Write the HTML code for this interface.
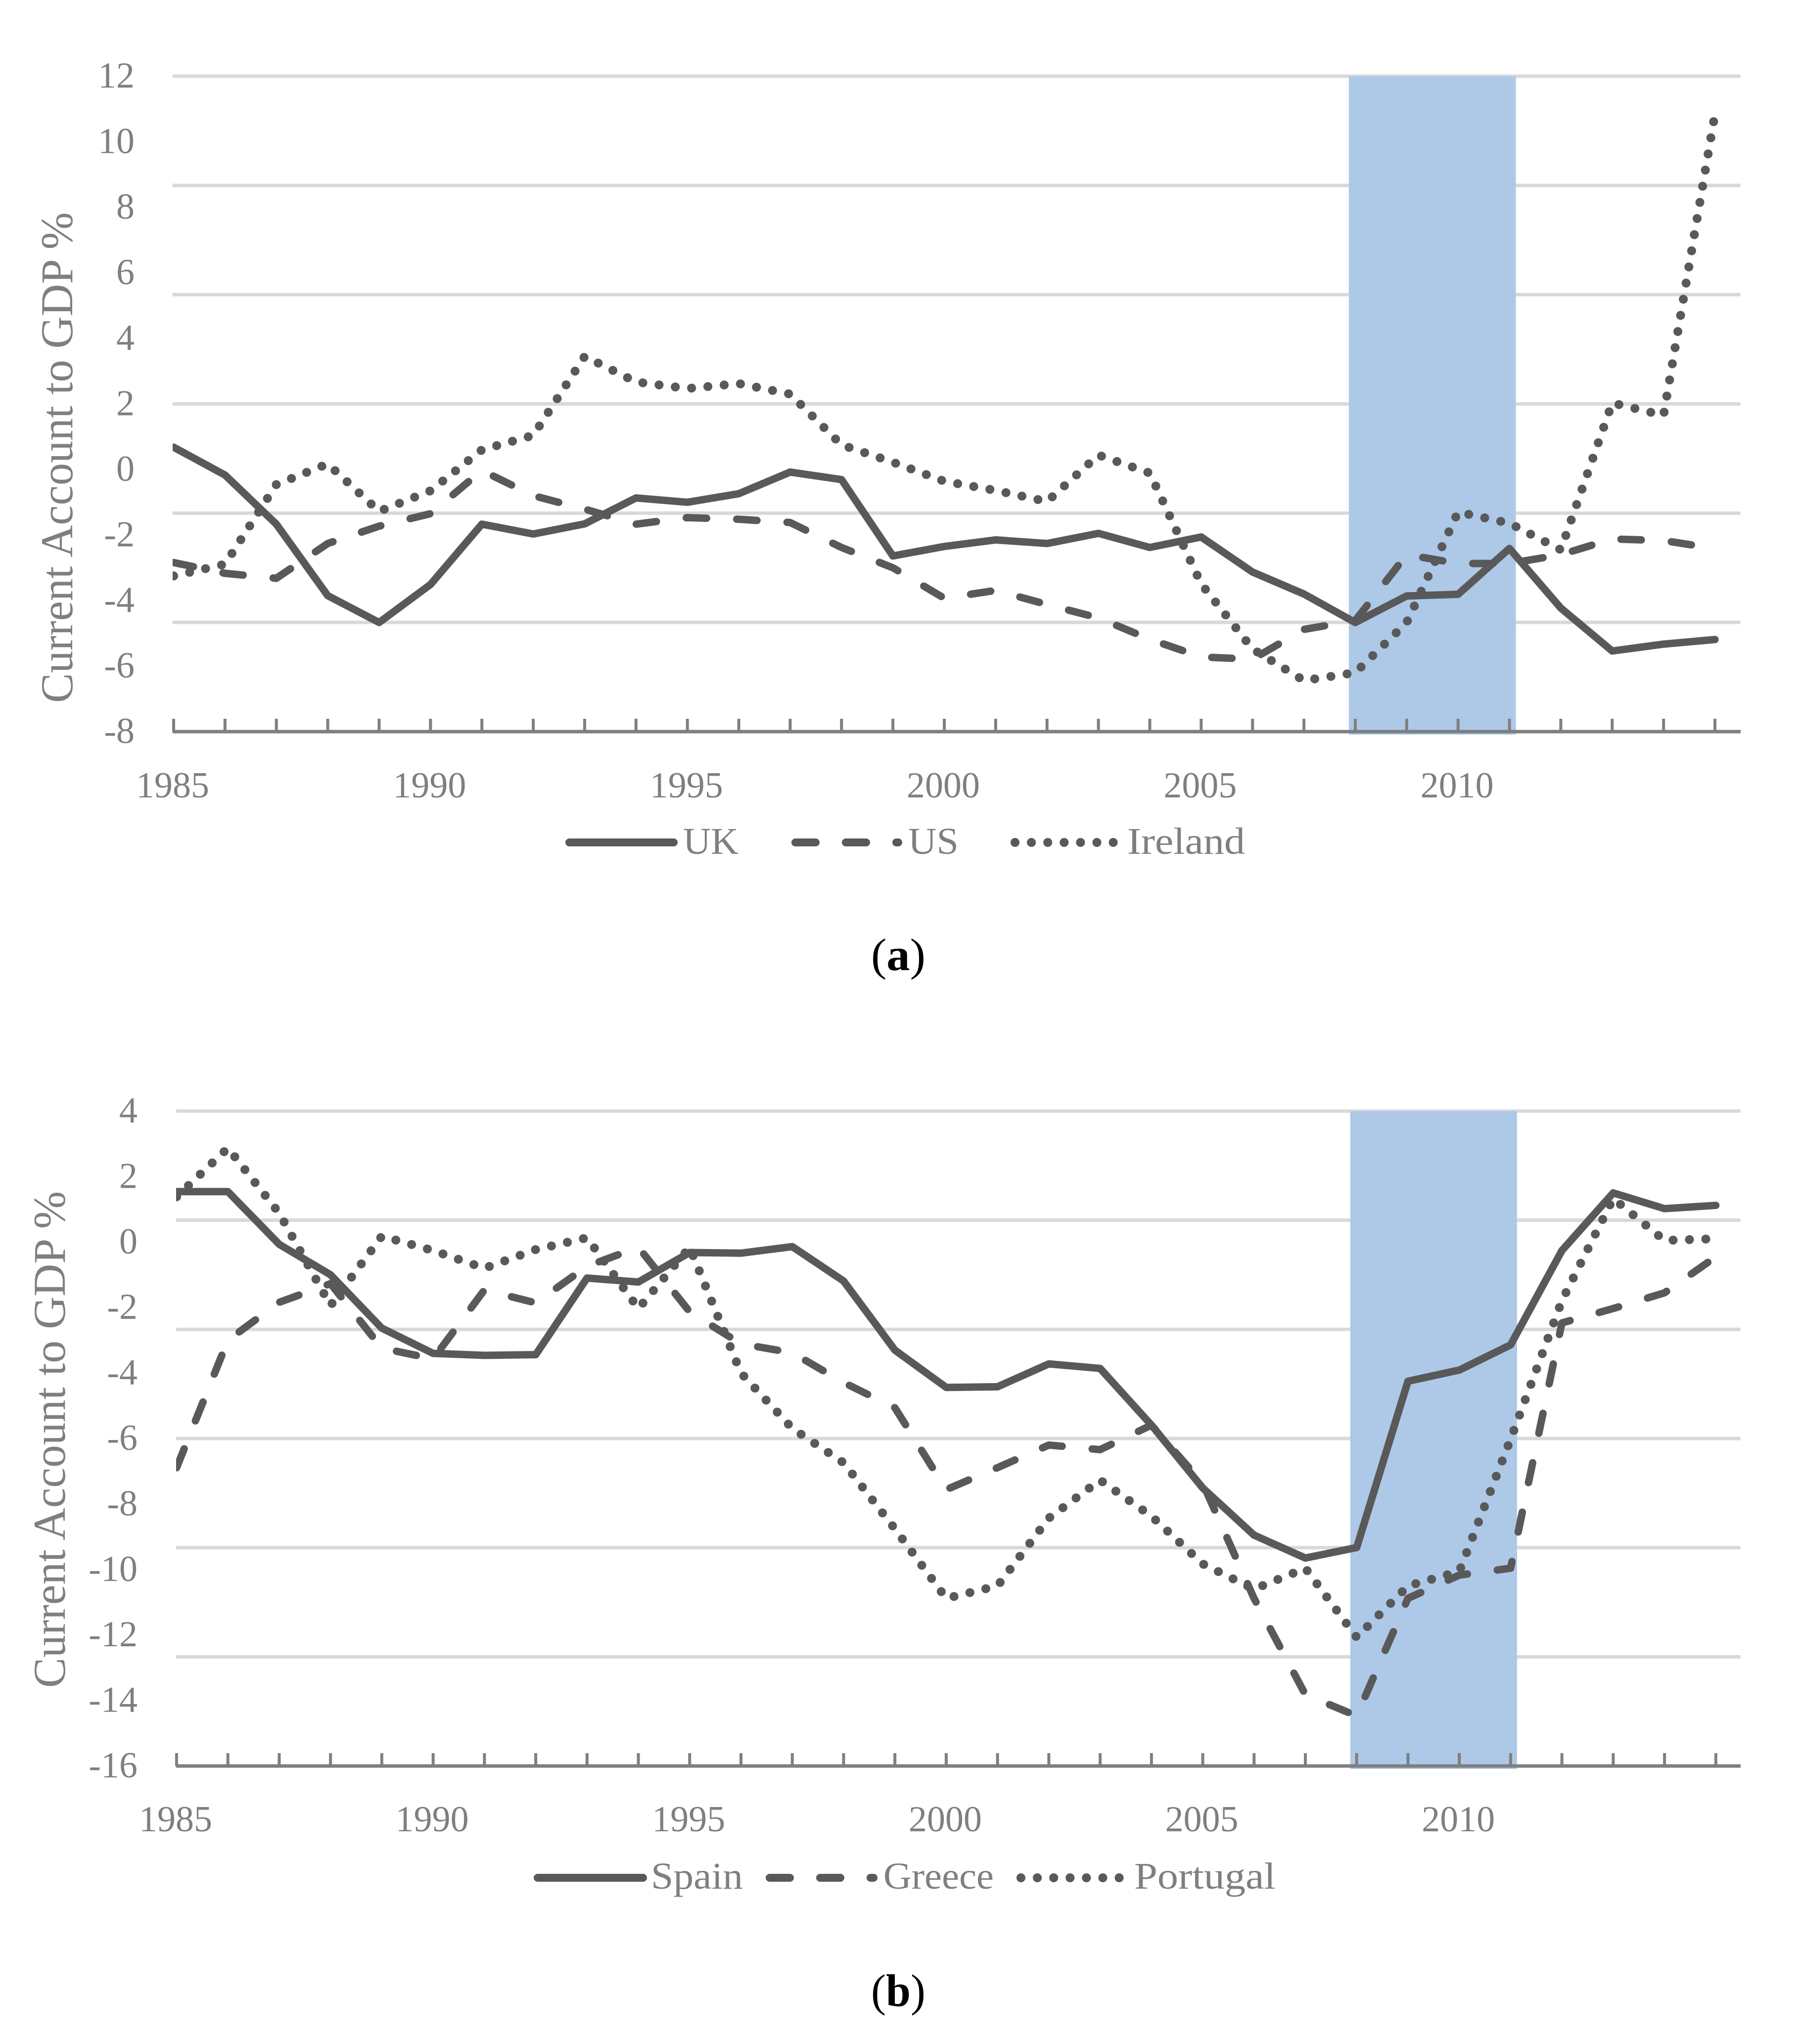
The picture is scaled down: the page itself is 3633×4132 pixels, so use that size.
<!DOCTYPE html>
<html lang="en">
<head>
<meta charset="utf-8">
<title>Current Account to GDP</title>
<style>
  html, body { margin: 0; padding: 0; background: #ffffff; }
  svg { display: block; }
  text { font-family: "Liberation Serif", serif; fill: #7f7f7f; }
  .tick-label { font-size: 74px; }
  .axis-title { font-size: 92px; }
  .legend-label { font-size: 76px; }
  .caption { font-size: 92px; fill: #000000; }
  .caption-bold { font-weight: bold; }
  .s-solid { fill: none; stroke: #595959; stroke-width: 15; stroke-linecap: round; stroke-linejoin: round; }
  .s-dash { fill: none; stroke: #595959; stroke-width: 15; stroke-linecap: round; stroke-linejoin: round; stroke-dasharray: 41 61; }
  .s-dot { fill: none; stroke: #595959; stroke-width: 18; stroke-linecap: round; stroke-linejoin: round; stroke-dasharray: 0.1 33; }
  .leg-solid { stroke-width: 16; }
  .leg-dash { stroke-width: 16; }
  .leg-dot { stroke-width: 18; }
</style>
</head>
<body>
<svg id="figure" xmlns="http://www.w3.org/2000/svg" width="3633" height="4132" viewBox="0 0 3633 4132">
  <rect x="0" y="0" width="3633" height="4132" fill="#ffffff"/>

  <g id="panel-a"></g>
  <g id="panel-b"></g>

  <text class="axis-title" transform="translate(146 925) rotate(-90)" text-anchor="middle" textLength="992" lengthAdjust="spacingAndGlyphs">Current Account to GDP %</text>
  <text class="axis-title" transform="translate(131 2910) rotate(-90)" text-anchor="middle" textLength="1004" lengthAdjust="spacingAndGlyphs">Current Account to GDP %</text>

  <g>
    <line class="s-solid leg-solid" x1="1151" y1="1703" x2="1362" y2="1703"/>
    <text class="legend-label" x="1381" y="1726" textLength="112" lengthAdjust="spacingAndGlyphs">UK</text>
    <line class="s-dash leg-dash" x1="1608" y1="1703" x2="1816" y2="1703"/>
    <text class="legend-label" x="1836" y="1726" textLength="102" lengthAdjust="spacingAndGlyphs">US</text>
    <line class="s-dot leg-dot" x1="2052" y1="1703" x2="2258" y2="1703"/>
    <text class="legend-label" x="2279" y="1726" textLength="238" lengthAdjust="spacingAndGlyphs">Ireland</text>
  </g>

  <g>
    <line class="s-solid leg-solid" x1="1087" y1="3796" x2="1300" y2="3796"/>
    <text class="legend-label" x="1316" y="3818" textLength="186" lengthAdjust="spacingAndGlyphs">Spain</text>
    <line class="s-dash leg-dash" x1="1556" y1="3796" x2="1766" y2="3796"/>
    <text class="legend-label" x="1786" y="3818" textLength="223" lengthAdjust="spacingAndGlyphs">Greece</text>
    <line class="s-dot leg-dot" x1="2064" y1="3796" x2="2270" y2="3796"/>
    <text class="legend-label" x="2293" y="3818" textLength="286" lengthAdjust="spacingAndGlyphs">Portugal</text>
  </g>

  <text class="caption" x="1816" y="1961" text-anchor="middle" textLength="110" lengthAdjust="spacingAndGlyphs">(<tspan class="caption-bold">a</tspan>)</text>
  <text class="caption" x="1816" y="4055" text-anchor="middle" textLength="110" lengthAdjust="spacingAndGlyphs">(<tspan class="caption-bold">b</tspan>)</text>
</svg>

<script>
const years = [1985,1986,1987,1988,1989,1990,1991,1992,1993,1994,1995,1996,1997,1998,1999,2000,2001,2002,2003,2004,2005,2006,2007,2008,2009,2010,2011,2012,2013,2014,2015];
const xTickLabels = [1985,1990,1995,2000,2005,2010];
const crisisStartYear = 2008;
const crisisEndYear = 2011;

const ukValues = [0.68,-0.17,-1.67,-3.85,-4.67,-3.51,-1.67,-1.97,-1.66,-0.87,-1.0,-0.74,-0.08,-0.31,-2.64,-2.35,-2.15,-2.26,-1.95,-2.38,-2.06,-3.13,-3.80,-4.67,-3.86,-3.81,-2.41,-4.23,-5.54,-5.33,-5.19];
const usValues = [-2.84,-3.17,-3.32,-2.26,-1.73,-1.35,-0.03,-0.8,-1.21,-1.67,-1.47,-1.52,-1.62,-2.38,-3.0,-3.93,-3.69,-4.12,-4.53,-5.18,-5.72,-5.79,-4.88,-4.61,-2.6,-2.87,-2.87,-2.6,-2.12,-2.17,-2.41];
const irelandValues = [-3.25,-2.89,-0.46,0.17,-1.28,-0.65,0.6,1.04,3.45,2.67,2.47,2.62,2.3,0.75,0.22,-0.36,-0.64,-0.98,0.44,-0.11,-3.49,-5.48,-6.44,-6.2,-4.67,-1.3,-1.64,-2.45,2.03,1.65,10.85];
const panelAYTicks = [12,10,8,6,4,2,0,-2,-4,-6,-8];

const spainValues = [1.54,1.54,-0.07,-1.0,-2.63,-3.4,-3.46,-3.44,-1.1,-1.22,-0.32,-0.34,-0.14,-1.19,-3.3,-4.44,-4.42,-3.72,-3.86,-5.59,-7.51,-8.95,-9.65,-9.33,-4.25,-3.91,-3.14,-0.26,1.5,1.02,1.12];
const greeceValues = [-6.89,-3.0,-1.84,-1.27,-3.24,-3.57,-1.46,-1.86,-0.74,-0.16,-2.13,-3.11,-3.38,-4.29,-5.06,-7.56,-6.89,-6.2,-6.34,-5.59,-7.37,-10.88,-13.82,-14.47,-10.88,-10.17,-9.96,-2.47,-2.03,-1.55,-0.45];
const portugalValues = [1.38,2.87,0.88,-1.94,0.18,-0.26,-0.8,-0.23,0.13,-2.03,-0.16,-4.0,-5.69,-6.74,-8.76,-10.88,-10.5,-8.43,-7.27,-8.37,-9.83,-10.6,-9.96,-12.07,-10.5,-10.06,-6.02,-1.79,1.33,0.05,0.1];
const panelBYTicks = [4,2,0,-2,-4,-6,-8,-10,-12,-14,-16];

const gridDivisions = 6;
const SVG_NS = 'http://www.w3.org/2000/svg';

function make(tag, parent) {
  const el = document.createElementNS(SVG_NS, tag);
  parent.appendChild(el);
  return el;
}

function drawPanel(cfg) {
  const root = document.getElementById(cfg.id);
  const xScale = function (year) {
    return cfg.x1985 + (year - years[0]) * cfg.xStep;
  };
  const yScale = function (value) {
    return cfg.yTop + (cfg.yMax - value) * (cfg.yBottom - cfg.yTop) / (cfg.yMax - cfg.yMin);
  };

  for (let i = 0; i < gridDivisions; i++) {
    const gridValue = cfg.yMax - i * (cfg.yMax - cfg.yMin) / gridDivisions;
    const grid = make('line', root);
    
    
    grid.setAttribute('x1', cfg.plotLeft);
    grid.setAttribute('x2', cfg.plotRight);
    grid.setAttribute('y1', yScale(gridValue));
    grid.setAttribute('y2', yScale(gridValue));
    grid.setAttribute('stroke', '#d9d9d9');
    grid.setAttribute('stroke-width', '7');
  }

  const band = make('rect', root);
  
  
  band.setAttribute('x', xScale(crisisStartYear) - 13);
  band.setAttribute('y', cfg.yTop);
  band.setAttribute('width', xScale(crisisEndYear) - xScale(crisisStartYear) + 26);
  band.setAttribute('height', cfg.yBottom - cfg.yTop + 6);
  band.setAttribute('fill', '#aec8e8');

  const axis = make('line', root);
  
  
  axis.setAttribute('x1', cfg.plotLeft);
  axis.setAttribute('x2', cfg.plotRight);
  axis.setAttribute('y1', cfg.yBottom);
  axis.setAttribute('y2', cfg.yBottom);
  axis.setAttribute('stroke', '#7f7f7f');
  axis.setAttribute('stroke-width', '7');

  years.forEach(function (year) {
    const tick = make('line', root);
    
    
    tick.setAttribute('x1', xScale(year));
    tick.setAttribute('x2', xScale(year));
    tick.setAttribute('y1', cfg.yBottom - 26);
    tick.setAttribute('y2', cfg.yBottom);
    tick.setAttribute('stroke', '#7f7f7f');
    tick.setAttribute('stroke-width', '6');
  });

  xTickLabels.forEach(function (year) {
    const label = make('text', root);
    
    
    label.setAttribute('class', 'tick-label');
    label.setAttribute('x', xScale(year) - 2);
    label.setAttribute('y', cfg.xLabelBaseline);
    label.setAttribute('text-anchor', 'middle');
    label.textContent = String(year);
  });

  cfg.yTicks.forEach(function (value) {
    const label = make('text', root);
    
    
    label.setAttribute('class', 'tick-label');
    label.setAttribute('x', cfg.yLabelRight);
    label.setAttribute('y', yScale(value) + 23);
    label.setAttribute('text-anchor', 'end');
    label.textContent = String(value);
  });

  const clipId = cfg.id + '-clip';
  const defs = make('defs', root);
  const clip = make('clipPath', defs);
  clip.setAttribute('id', clipId);
  const clipRect = make('rect', clip);
  clipRect.setAttribute('x', cfg.plotLeft);
  clipRect.setAttribute('y', 0);
  clipRect.setAttribute('width', 3633);
  clipRect.setAttribute('height', 4132);

  cfg.series.forEach(function (s) {
    const line = make('polyline', root);
    
    
    line.setAttribute('class', s.style);
    line.setAttribute('clip-path', 'url(#' + clipId + ')');
    line.setAttribute('points', s.values.map(function (v, i) {
      return xScale(years[i]).toFixed(1) + ',' + yScale(v).toFixed(1);
    }).join(' '));
  });
}

drawPanel({
  id: 'panel-a',
  x1985: 351, xStep: 103.87,
  plotLeft: 349, plotRight: 3519,
  yTop: 154, yBottom: 1479, yMax: 12, yMin: -8,
  xLabelBaseline: 1612, yLabelRight: 272,
  yTicks: panelAYTicks,
  series: [
    { name: 'series-uk-line', style: 's-solid', values: ukValues },
    { name: 'series-us-line', style: 's-dash', values: usValues },
    { name: 'series-ireland-line', style: 's-dot', values: irelandValues }
  ]
});

drawPanel({
  id: 'panel-b',
  x1985: 357, xStep: 103.73,
  plotLeft: 356, plotRight: 3519,
  yTop: 2246, yBottom: 3570, yMax: 4, yMin: -16,
  xLabelBaseline: 3702, yLabelRight: 278,
  yTicks: panelBYTicks,
  series: [
    { name: 'series-spain-line', style: 's-solid', values: spainValues },
    { name: 'series-greece-line', style: 's-dash', values: greeceValues },
    { name: 'series-portugal-line', style: 's-dot', values: portugalValues }
  ]
});
</script>
</body>
</html>
